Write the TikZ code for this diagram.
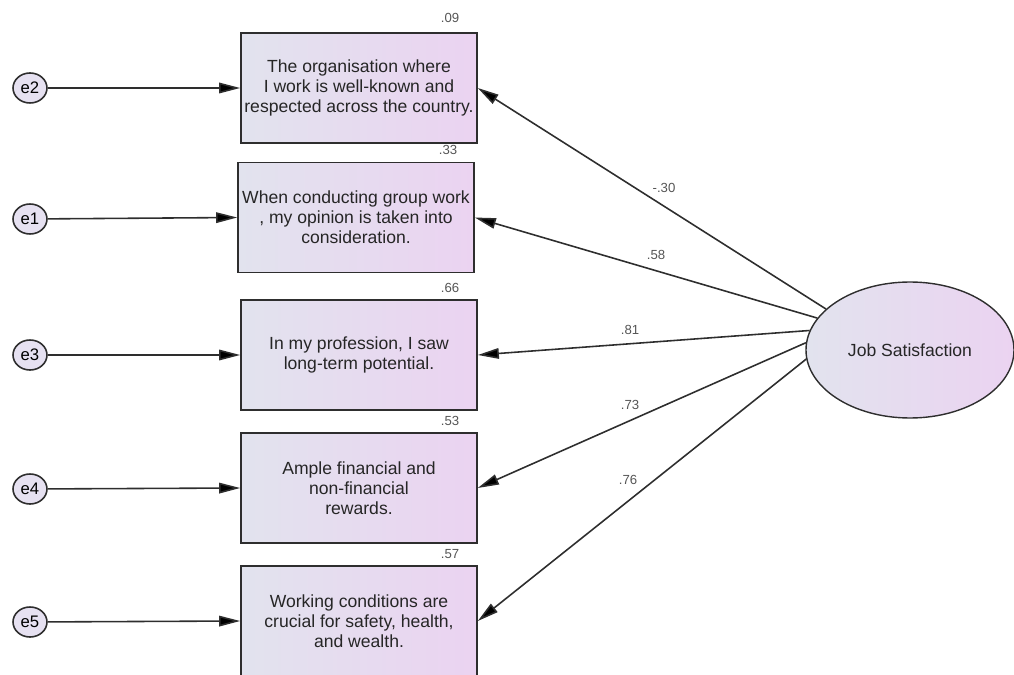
\documentclass[tikz,border=0pt]{standalone}
\usepackage{fontspec}
\setmainfont{Liberation Sans}
\usetikzlibrary{shapes.geometric,arrows.meta}
\definecolor{boxleft}{HTML}{E2E3EE}
\definecolor{boxright}{HTML}{EBD3F1}
\definecolor{errfill}{HTML}{E6E1F1}
\definecolor{edgegray}{HTML}{2E2E2E}
\definecolor{numgray}{HTML}{555555}
\tikzset{
  item/.style={rectangle, draw=edgegray, line width=0.9pt, left color=boxleft, right color=boxright,
    minimum width=47.2mm, minimum height=22mm, align=center, text=black!85,
    font=\fontsize{10}{11.4}\selectfont},
  err/.style={ellipse, draw=edgegray, line width=0.9pt, fill=errfill, minimum width=6.8mm,
    minimum height=6mm, font=\fontsize{9.5}{10}\selectfont},
  latent/.style={ellipse, draw=edgegray, line width=0.8pt, left color=boxleft, right color=boxright,
    minimum width=41.6mm, minimum height=27.2mm, font=\fontsize{10}{11}\selectfont, text=black!85},
  coef/.style={font=\fontsize{7.5}{8}\selectfont, text=numgray},
  link/.style={draw=edgegray, line width=0.9pt, -{Triangle[length=12pt,width=6pt,fill=black]}}
}
\begin{document}
\begin{tikzpicture}[x=0.2mm, y=0.2mm]
  \tikzstyle{every node}+=[inner sep=0pt]
  \useasboundingbox (0,0) rectangle (1014,-675);
  % observed items
  \node [item] (b1) at (359,-88) {The organisation where\\ I work is well-known and\\respected across the country.};
  \node [item] (b2) at (356,-217.5) {When conducting group work\\, my opinion is taken into\\consideration.};
  \node [item] (b3) at (359,-355) {In my profession, I saw\\long-term potential.};
  \node [item] (b4) at (359,-488) {Ample financial and\\non-financial\\rewards.};
  \node [item] (b5) at (359,-621) {Working conditions are\\crucial for safety, health,\\and wealth.};
  % squared multiple correlations
  \node [coef] (r1) at (450,-18) {.09};
  \node [coef] (r2) at (448,-150) {.33};
  \node [coef] (r3) at (450,-288) {.66};
  \node [coef] (r4) at (450,-421) {.53};
  \node [coef] (r5) at (450,-554) {.57};
  % error terms
  \node [err] (e2) at (30,-88) {e2};
  \node [err] (e1) at (30,-219) {e1};
  \node [err] (e3) at (30,-355) {e3};
  \node [err] (e4) at (30,-489) {e4};
  \node [err] (e5) at (30,-622) {e5};
  \draw [link] (e2) -- (b1.west);
  \draw [link] (e1) -- (b2.west);
  \draw [link] (e3) -- (b3.west);
  \draw [link] (e4) -- (b4.west);
  \draw [link] (e5) -- (b5.west);
  % latent factor
  \node [latent] (js) at (910,-350) {Job Satisfaction};
  \draw [link] (js.154) -- (b1.east);
  \draw [link] (js.161) -- (b2.east);
  \draw [link] (js.169) -- (b3.east);
  \draw [link] (js.176) -- (b4.east);
  \draw [link] (js.185) -- (b5.east);
  % loadings
  \node [coef] (w1) at (664,-188) {-.30};
  \node [coef] (w2) at (656,-255) {.58};
  \node [coef] (w3) at (630,-330) {.81};
  \node [coef] (w4) at (630,-405) {.73};
  \node [coef] (w5) at (628,-480) {.76};
\end{tikzpicture}
\end{document}
